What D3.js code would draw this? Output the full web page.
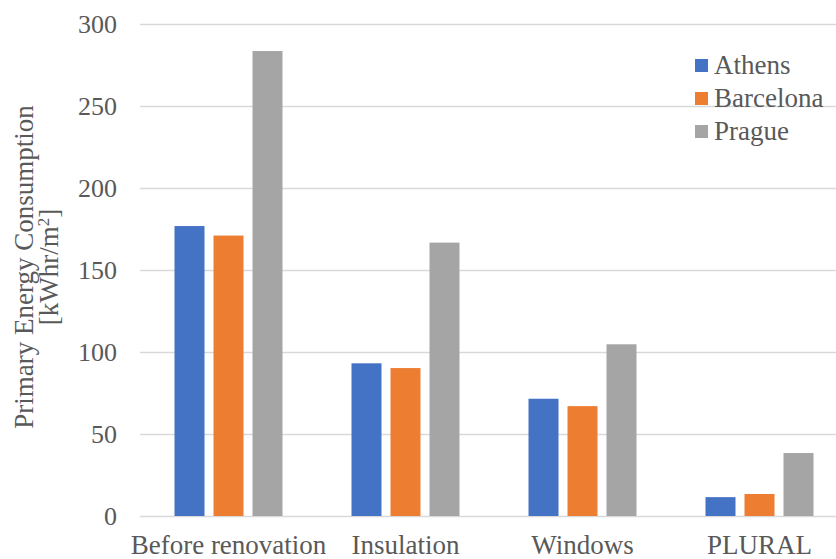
<!DOCTYPE html>
<html>
<head>
<meta charset="utf-8">
<script src="https://cdn.jsdelivr.net/npm/d3@7"></script>
<style>
  body { margin: 0; background: #fff; }
  text { font-family: "Liberation Serif", "DejaVu Serif", serif; fill: #595959; }
</style>
</head>
<body>
<div id="chart"></div>
<script>
// Data
var categories = ["Before renovation", "Insulation", "Windows", "PLURAL"];
var seriesNames = ["Athens", "Barcelona", "Prague"];
var athens = [176.8, 93.1, 71.5, 11.5];
var barcelona = [171, 90.2, 67, 13.4];
var prague = [283.5, 166.7, 104.7, 38.4];
var yTicks = [0, 50, 100, 150, 200, 250, 300];
var colors = ["#4472c4", "#ed7d31", "#a5a5a5"];

var width = 836, height = 559;
var margin = {top: 24, left: 140, bottom: 43};
var serif = "'Liberation Serif', 'DejaVu Serif', serif";

// Plot area runs past the right edge of the picture (the chart is cropped)
var plotRight = 848;

var seriesValues = [athens, barcelona, prague];
var rows = categories.map(function(c, i) {
  var r = {category: c};
  seriesNames.forEach(function(s, j) { r[s] = seriesValues[j][i]; });
  return r;
});

var svg = d3.select("#chart").append("svg")
  .attr("width", width)
  .attr("height", height);

var x = d3.scaleBand()
  .domain(categories)
  .range([margin.left, plotRight])
  .padding(0);

// inner scale: 3 bars, 30px wide, 9px gaps, centred in each band
var xSub = d3.scaleBand()
  .domain(seriesNames)
  .range([34.5, 142.5])
  .paddingInner(9 / 39);

var y = d3.scaleLinear()
  .domain([0, 300])
  .range([height - margin.bottom, margin.top]);

var color = d3.scaleOrdinal().domain(seriesNames).range(colors);

// Gridlines
svg.append("g")
  .selectAll("line")
  .data(yTicks)
  .enter().append("line")
  .attr("x1", margin.left)
  .attr("x2", plotRight)
  .attr("y1", function(d) { return Math.round(y(d)) + 0.5; })
  .attr("y2", function(d) { return Math.round(y(d)) + 0.5; })
  .attr("stroke", "#d9d9d9")
  .attr("stroke-width", 1.3);

// Y axis labels
var yAxis = svg.append("g")
  .attr("transform", "translate(" + (margin.left - 23) + ",0)")
  .call(d3.axisLeft(y).tickValues(yTicks).tickSize(0).tickPadding(0));
yAxis.attr("font-family", null);
yAxis.select(".domain").remove();
yAxis.selectAll("text")
  .style("font-family", serif)
  .style("font-size", "26px")
  .attr("fill", "#595959")
  .attr("dy", "0.33em");

// Bars
var groups = svg.append("g")
  .selectAll("g")
  .data(rows)
  .enter().append("g")
  .attr("transform", function(d) { return "translate(" + x(d.category) + ",0)"; });

groups.selectAll("rect")
  .data(function(d) { return seriesNames.map(function(s) { return {key: s, value: d[s]}; }); })
  .enter().append("rect")
  .attr("x", function(d) { return xSub(d.key); })
  .attr("y", function(d) { return y(d.value); })
  .attr("width", xSub.bandwidth())
  .attr("height", function(d) { return y(0) - y(d.value); })
  .attr("fill", function(d) { return color(d.key); });

// X axis labels
var xAxis = svg.append("g")
  .attr("transform", "translate(0," + y(0) + ")")
  .call(d3.axisBottom(x).tickSize(0).tickPadding(0));
xAxis.attr("font-family", null);
xAxis.select(".domain").remove();
xAxis.selectAll("text")
  .style("font-family", serif)
  .style("font-size", "27px")
  .attr("fill", "#595959")
  .attr("dy", null)
  .attr("y", 38);

// Y axis title
var title = svg.append("text")
  .attr("transform", "translate(0,267) rotate(-90)")
  .attr("text-anchor", "middle")
  .style("font-family", serif)
  .style("font-size", "27px");
title.append("tspan").attr("x", 0).attr("y", 33).text("Primary Energy Consumption");
var t2 = title.append("tspan").attr("x", 0).attr("y", 58).text("[kWhr/m");
t2.append("tspan").attr("dy", -9).style("font-size", "17px").text("2");
t2.append("tspan").attr("dy", 9).text("]");

// Legend
var legend = svg.append("g")
  .selectAll("g")
  .data(seriesNames)
  .enter().append("g")
  .attr("transform", function(d, i) { return "translate(695," + (59 + i * 33) + ")"; });
legend.append("rect")
  .attr("width", 13)
  .attr("height", 13)
  .attr("fill", function(d) { return color(d); });
legend.append("text")
  .attr("x", 19)
  .attr("y", 15)
  .style("font-family", serif)
  .style("font-size", "27px")
  .text(function(d) { return d; });
</script>
</body>
</html>
